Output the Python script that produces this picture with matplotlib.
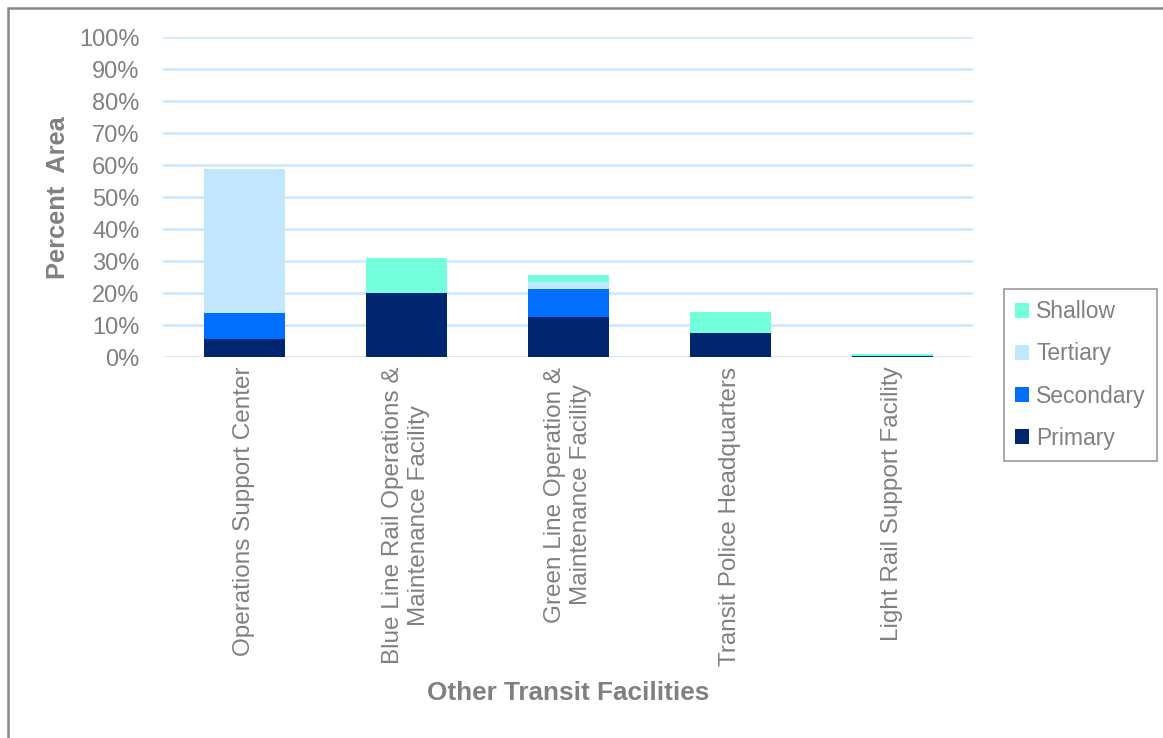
import matplotlib.pyplot as plt
from matplotlib.patches import Rectangle
import numpy as np

plt.rcParams['font.family'] = ['Liberation Sans', 'DejaVu Sans']

facilities = [
    "Operations Support Center",
    "Blue Line Rail Operations &\nMaintenance Facility",
    "Green Line Operation &\nMaintenance Facility",
    "Transit Police Headquarters",
    "Light Rail Support Facility",
]
# percent of area in each zone
primary = [5.7, 20.0, 12.6, 7.5, 0.3]
secondary = [7.9, 0.0, 8.5, 0.0, 0.0]
tertiary = [45.1, 0.0, 2.2, 0.0, 0.0]
shallow = [0.0, 10.9, 2.3, 6.6, 0.6]

series = [
    ("Primary", primary, "#00266f"),
    ("Secondary", secondary, "#006eff"),
    ("Tertiary", tertiary, "#c1e7ff"),
    ("Shallow", shallow, "#74ffdc"),
]

gray = "#808080"
W, H = 1163, 738
fig = plt.figure(figsize=(W / 100, H / 100), dpi=100)
ax = fig.add_axes([163 / W, 1 - 357 / H, 810 / W, 320 / H])

x = np.arange(len(facilities))
bottom = np.zeros(len(facilities))
handles = []
for name, vals, col in series:
    vals = np.array(vals)
    b = ax.bar(x, vals, 0.5, bottom=bottom, color=col, label=name, zorder=3)
    handles.append(b)
    bottom += vals

ax.set_xlim(-0.5, len(facilities) - 0.5)
ax.set_ylim(0, 100)
ax.set_yticks(np.arange(0, 101, 10))
ax.set_yticklabels([f"{v}%" for v in range(0, 101, 10)])
ax.yaxis.grid(True, color="#d2e8fb", linewidth=2, zorder=0)
for s in ax.spines.values():
    s.set_visible(False)
ax.tick_params(axis="both", length=0, labelcolor=gray)
ax.tick_params(axis="y", pad=17, labelsize=17)
ax.set_xticks(x)
ax.set_xticklabels(facilities, rotation=90, ha="center", va="top")
ax.tick_params(axis="x", pad=7, labelsize=17.5)

fig.text(58 / W, 1 - 198 / H, "Percent  Area", rotation=90, ha="center", va="center",
         fontsize=18.3, fontweight="bold", color=gray)
fig.text(568 / W, 1 - 693 / H, "Other Transit Facilities", ha="center", va="center",
         fontsize=18.8, fontweight="bold", color=gray)

leg = fig.legend(handles[::-1], [s[0] for s in series][::-1],
                 loc="upper left", bbox_to_anchor=(1004 / W, 1 - 289 / H),
                 fontsize=16.5, frameon=True, fancybox=False, edgecolor=gray,
                 handlelength=0.6, handleheight=0.6, handletextpad=0.3,
                 labelspacing=0.83, borderpad=0.5, borderaxespad=0)
leg.get_frame().set_linewidth(1.2)
for t in leg.get_texts():
    t.set_color(gray)

# outer chart border
fig.patches.append(Rectangle((8 / W, -0.1), 1.2, 1 - 8 / H + 0.1, transform=fig.transFigure,
                             fill=False, edgecolor="#868686", linewidth=1.8))

fig.savefig("out.png", dpi=100)
